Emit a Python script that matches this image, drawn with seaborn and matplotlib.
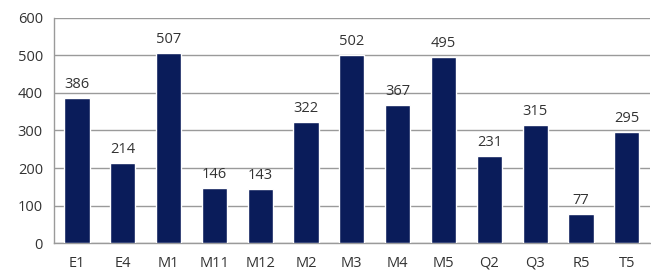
import matplotlib
matplotlib.use('Agg')
import matplotlib.pyplot as plt
import seaborn as sns
import pandas as pd

# chart data
categories = ['E1', 'E4', 'M1', 'M11', 'M12', 'M2', 'M3', 'M4', 'M5', 'Q2', 'Q3', 'R5', 'T5']
values = [386, 214, 507, 146, 143, 322, 502, 367, 495, 231, 315, 77, 295]

df = pd.DataFrame({'code': categories, 'count': values})

sns.set_style('white')
plt.rcParams['font.family'] = ['Open Sans', 'DejaVu Sans']

fig = plt.figure(figsize=(6.51, 2.75), dpi=100)
ax = fig.add_axes([0.083, 0.116, 0.915, 0.819])

sns.barplot(data=df, x='code', y='count', color='#0a1c5a', width=0.55,
            saturation=1, ax=ax, zorder=3)

# value labels above bars
for i, v in enumerate(values):
    ax.text(i, v + 16, str(v), ha='center', va='bottom', fontsize=10.5, color='#333333')

ax.set_ylim(0, 600)
ax.set_yticks(range(0, 601, 100))
ax.set_xlim(-0.5, len(categories) - 0.5)
ax.yaxis.grid(True, color='#9a9a9a', linewidth=1, zorder=0)
ax.set_xlabel('')
ax.set_ylabel('')
ax.tick_params(axis='both', labelsize=10.5, colors='#333333', length=0)
ax.tick_params(axis='x', pad=9)
ax.tick_params(axis='y', pad=8)
for s in ['top', 'right']:
    ax.spines[s].set_visible(False)
for s in ['left', 'bottom']:
    ax.spines[s].set_color('#9a9a9a')
    ax.spines[s].set_linewidth(1)

fig.savefig('out.png', dpi=100)
